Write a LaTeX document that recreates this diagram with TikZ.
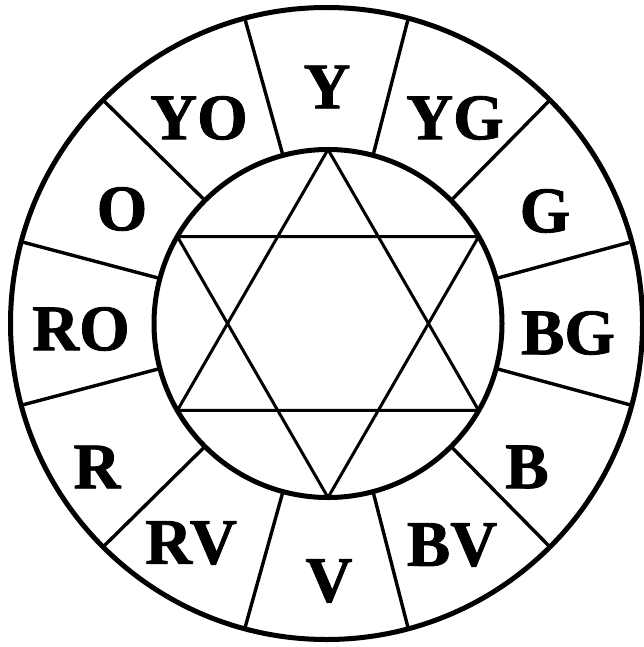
\documentclass[tikz,border=0pt]{standalone}
\usepackage{fontspec}
\setmainfont[BoldFeatures={FakeBold=1.3}]{Liberation Serif}
\begin{document}
\begin{tikzpicture}[x=1pt,y=-1pt,
  ring/.style={circle,draw,line width=5pt,inner sep=0pt,outer sep=0pt},
  spoke/.style={line width=3.4pt},
  star/.style={line width=3pt,line join=miter},
  lbl/.style={inner sep=0pt,font=\fontsize{65}{70}\selectfont\bfseries}]
\useasboundingbox (0,0) rectangle (644,647);
\node[ring,minimum size=632pt] (outer) at (326.5,323.5) {};
\node[ring,minimum size=348pt] (inner) at (328,323.5) {};
% spokes
\foreach \a in {15,45,...,345}
  \draw[spoke] (inner.\a) -- (outer.\a);
% hexagram
\draw[star] (inner.90) -- (inner.210) -- (inner.330) -- cycle;
\draw[star] (inner.270) -- (inner.30) -- (inner.150) -- cycle;
% labels
\node[lbl] (Y)  at (327,87)  {Y};
\node[lbl] (YO) at (199,118) {YO};
\node[lbl] (YG) at (455,118) {YG};
\node[lbl] (O)  at (122,209) {O};
\node[lbl] (G)  at (545,211) {G};
\node[lbl] (RO) at (81,329)  {RO};
\node[lbl] (BG) at (568,333) {BG};
\node[lbl] (R)  at (97,467)  {R};
\node[lbl] (B)  at (527,467) {B};
\node[lbl] (RV) at (191,543) {RV};
\node[lbl] (BV) at (452,545) {BV};
\node[lbl] (V)  at (329,581) {V};
\end{tikzpicture}
\end{document}
